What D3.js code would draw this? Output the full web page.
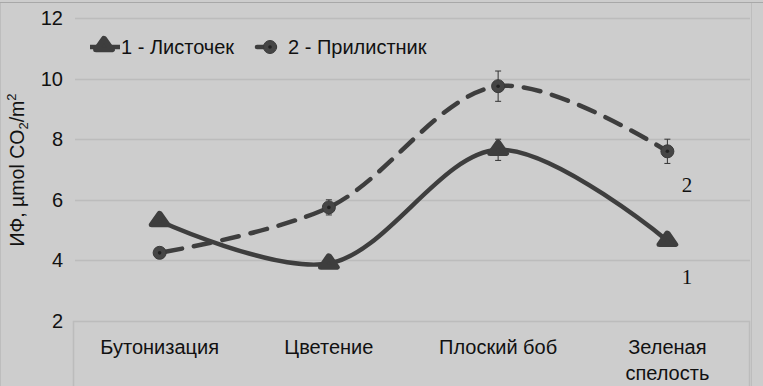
<!DOCTYPE html>
<html><head><meta charset="utf-8">
<script src="https://cdn.jsdelivr.net/npm/d3@7"></script>
<style>body{margin:0;background:#cdcdcd;}svg{display:block;}</style>
</head><body>
<svg id="c" width="763" height="386"></svg>
<script>
const categories = ["Бутонизация", "Цветение", "Плоский боб", "Зеленая спелость"];
const seriesNames = ["1 - Листочек", "2 - Прилистник"];
const leafValues = [5.3, 3.9, 7.65, 4.65];
const leafErrors = [0.15, 0.15, 0.35, 0.15];
const stipuleValues = [4.25, 5.75, 9.75, 7.6];
const stipuleErrors = [0.1, 0.25, 0.5, 0.4];
const yTicks = [2, 4, 6, 8, 10, 12];
const endLabels = ["1", "2"];

const svg = d3.select("#c");
const W = 763, H = 386;
const plot = {l: 75, r: 752, t: 18, b: 321};
const line = "#3e3e3e";
const FONT = "Liberation Sans, Arial, sans-serif";
svg.append("rect").attr("width", W).attr("height", H).attr("fill", "#cdcdcd");
svg.append("line").attr("x1", 0).attr("x2", W).attr("y1", 2.5).attr("y2", 2.5).attr("stroke", "#a8a8a8").attr("stroke-width", 1);
svg.append("line").attr("x1", 751.5).attr("x2", 751.5).attr("y1", 3).attr("y2", H).attr("stroke", "#bdbdbd");
svg.append("line").attr("x1", 0.5).attr("x2", 0.5).attr("y1", 3).attr("y2", H).attr("stroke", "#bdbdbd");

const x = d3.scaleBand().domain(categories).range([plot.l, plot.r]);
const y = d3.scaleLinear().domain([2, 12]).range([plot.b, plot.t]);
const cx = d => x(d) + x.bandwidth() / 2;

svg.append("g").selectAll("line").data(yTicks.filter(t => t > 2)).join("line")
  .attr("x1", plot.l).attr("x2", plot.r - 2)
  .attr("y1", d => Math.round(y(d)) + 0.5).attr("y2", d => Math.round(y(d)) + 0.5)
  .attr("stroke", "#bcbcbc").attr("stroke-width", 1.5);

svg.append("rect").attr("x", plot.l - 1.5).attr("y", plot.b + 0.5).attr("width", plot.r - plot.l - 1).attr("height", H)
  .attr("fill", "none").attr("stroke", "#bcbcbc").attr("stroke-width", 1.5);

const yAxis = d3.axisLeft(y).tickValues(yTicks).tickSize(0).tickPadding(0);
const ya = svg.append("g").attr("transform", `translate(${plot.l - 12},0)`).call(yAxis);
ya.select(".domain").remove();
ya.selectAll("text").attr("font-family", FONT).attr("font-size", 20).attr("fill", "#111");

const xl = svg.append("g").attr("font-family", FONT).attr("font-size", 20).attr("fill", "#111").attr("text-anchor", "middle");
categories.forEach(c => {
  const words = c === "Зеленая спелость" ? ["Зеленая", "спелость"] : [c];
  const t = xl.append("text").attr("x", cx(c)).attr("y", 354);
  words.forEach((w, i) => t.append("tspan").attr("x", cx(c)).attr("dy", i ? 26 : 0).text(w));
});

const yt = svg.append("text").attr("transform", "translate(24,170) rotate(-90)")
  .attr("text-anchor", "middle").attr("font-family", FONT).attr("font-size", 19.5).attr("fill", "#111");
yt.append("tspan").text("ИФ, µmol CO");
yt.append("tspan").attr("font-size", 13).attr("dy", 4).text("2");
yt.append("tspan").attr("dy", -4).text("/m");
yt.append("tspan").attr("font-size", 13).attr("dy", -8).text("2");

const curve = d3.curveCatmullRom.alpha(0.5);
const gen = d3.line().x((d, i) => cx(categories[i])).y(d => y(d)).curve(curve);

svg.append("path").attr("d", gen(stipuleValues)).attr("fill", "none").attr("stroke", line)
  .attr("stroke-width", 4.5).attr("stroke-dasharray", "17,12").attr("stroke-dashoffset", -6).attr("stroke-linecap", "round");
svg.append("path").attr("d", gen(leafValues)).attr("fill", "none").attr("stroke", line).attr("stroke-width", 4.5);

function errBars(vals, errs) {
  const g = svg.append("g").attr("stroke", "#333").attr("stroke-width", 1);
  vals.forEach((v, i) => {
    const px = cx(categories[i]);
    g.append("line").attr("x1", px).attr("x2", px).attr("y1", y(v - errs[i])).attr("y2", y(v + errs[i]));
    [v - errs[i], v + errs[i]].forEach(e => g.append("line").attr("x1", px - 3).attr("x2", px + 3).attr("y1", y(e)).attr("y2", y(e)));
  });
}
errBars(stipuleValues, stipuleErrors);
errBars(leafValues, leafErrors);

const tri = d3.symbol().type(d3.symbolTriangle).size(75);
function triMarker(g, px, py) {
  g.append("path").attr("d", tri()).attr("transform", `translate(${px},${py}) scale(1.2,1)`)
    .attr("fill", line).attr("stroke", line).attr("stroke-width", 5).attr("stroke-linejoin", "round");
}
function circMarker(g, px, py) {
  g.append("circle").attr("cx", px).attr("cy", py).attr("r", 6.5).attr("fill", "#454545").attr("stroke", "#3a3a3a").attr("stroke-width", 1);
  g.append("circle").attr("cx", px).attr("cy", py).attr("r", 1.8).attr("fill", "#222");
}
const mg = svg.append("g");
leafValues.forEach((v, i) => triMarker(mg, cx(categories[i]), y(v)));
stipuleValues.forEach((v, i) => circMarker(mg, cx(categories[i]), y(v)));

svg.append("g").attr("font-family", "Liberation Serif, Times New Roman, serif").attr("font-size", 21).attr("fill", "#111").attr("text-anchor", "middle")
  .selectAll("text").data(endLabels).join("text")
  .attr("x", 687).attr("y", (d, i) => i === 0 ? 284 : 192).text(d => d);

const lg = svg.append("g").attr("font-family", FONT).attr("font-size", 20).attr("fill", "#111");
lg.append("line").attr("x1", 90).attr("x2", 120).attr("y1", 47).attr("y2", 47).attr("stroke", line).attr("stroke-width", 4.5);
triMarker(lg, 104, 46);
lg.append("text").attr("x", 121).attr("y", 54).text(seriesNames[0]);
lg.append("line").attr("x1", 257).attr("x2", 275).attr("y1", 47).attr("y2", 47).attr("stroke", line).attr("stroke-width", 4.5).attr("stroke-linecap", "round");
circMarker(lg, 270, 47);
lg.append("text").attr("x", 288).attr("y", 54).text(seriesNames[1]);
</script>
</body></html>
